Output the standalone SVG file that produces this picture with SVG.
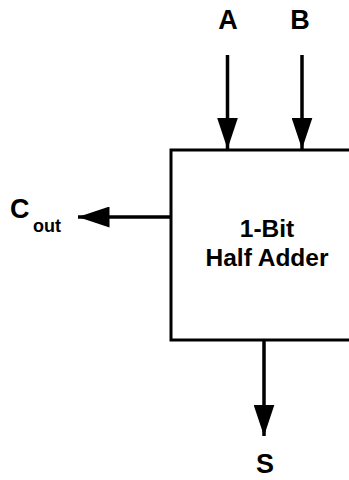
<svg xmlns="http://www.w3.org/2000/svg" width="349" height="480" viewBox="0 0 349 480">
<style>
text{font-family:"Liberation Sans",Arial,sans-serif;font-weight:bold;fill:#000}
.lbl{font-size:27px;text-anchor:middle}
.in{font-size:24.5px;text-anchor:middle}
.w{stroke:#000;stroke-width:3.5;fill:none}
</style>
<defs>
<marker id="ah" viewBox="0 0 15 10" refX="15" refY="5" markerWidth="9" markerHeight="6" markerUnits="strokeWidth" orient="auto">
<path d="M0,0 L15,5 L0,10 Z" fill="#000"/>
</marker>
</defs>
<g id="adder">
<rect x="171" y="150" width="200" height="190" fill="#fff" stroke="#000" stroke-width="3"/>
<text class="in" x="267" y="237">1-Bit</text>
<text class="in" x="267" y="266">Half Adder</text>
</g>
<g id="inA"><text class="lbl" x="228" y="29">A</text></g>
<g id="inB"><text class="lbl" x="300" y="29">B</text></g>
<g id="outC"><text x="10" y="218" style="font-size:27px">C</text><text x="33" y="232" style="font-size:18px">out</text></g>
<g id="outS"><text class="lbl" x="265" y="473">S</text></g>
<g id="connectors">
<line class="w" x1="227.5" y1="55" x2="227.5" y2="149" marker-end="url(#ah)"/>
<line class="w" x1="302" y1="55" x2="302" y2="149" marker-end="url(#ah)"/>
<line class="w" x1="171" y1="217" x2="78" y2="217" marker-end="url(#ah)"/>
<line class="w" x1="264" y1="340" x2="264" y2="436" marker-end="url(#ah)"/>
</g>
</svg>
